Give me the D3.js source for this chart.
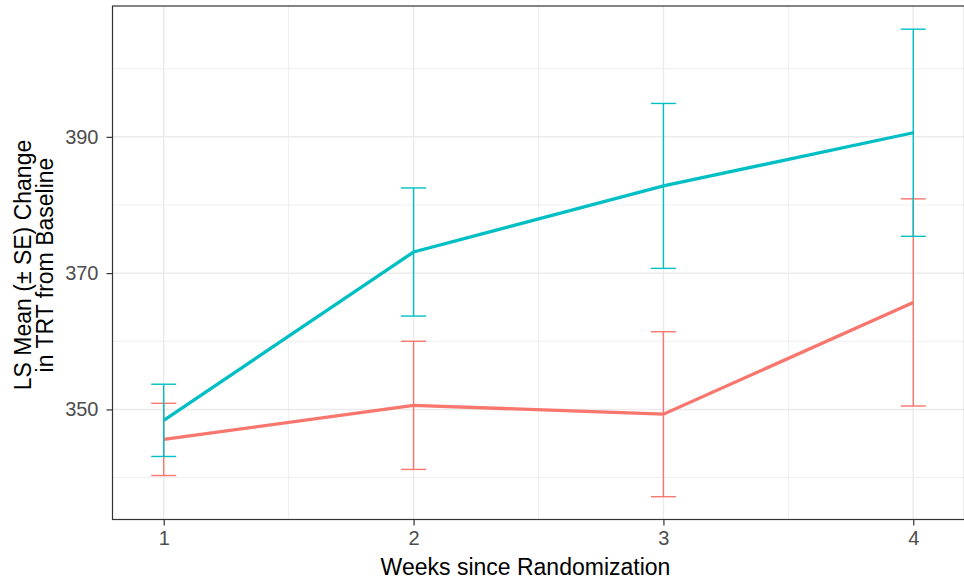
<!DOCTYPE html>
<html lang="en">
<head>
<meta charset="utf-8">
<title>LS Mean Change in TRT</title>
<style>
  body { margin: 0; background: #ffffff; }
  svg { display: block; }
</style>
</head>
<body>
<div id="chart"></div>
<script src="https://cdnjs.cloudflare.com/ajax/libs/d3/7.8.5/d3.min.js"></script>
<script type="text/javascript">

    // values
    var weeks = [1, 2, 3, 4];
    var groupNames = ["Group A", "Group B"];
    var meanA = [345.6, 350.6, 349.3, 365.7];
    var seA = [5.3, 9.4, 12.1, 15.2];
    var meanB = [348.4, 373.1, 382.8, 390.6];
    var seB = [5.3, 9.4, 12.1, 15.2];
    var yTicks = [350, 370, 390];
    var yMinor = [340, 360, 380, 400];
    var xMinor = [1.5, 2.5, 3.5];
    var colors = ["#F8766D", "#00BFC4"];

    var groups = [
        {name: groupNames[0], color: colors[0], pts: weeks.map(function(w, i){ return {x: w, m: meanA[i], se: seA[i]}; })},
        {name: groupNames[1], color: colors[1], pts: weeks.map(function(w, i){ return {x: w, m: meanB[i], se: seB[i]}; })}
    ];

    var width = 964, height = 581;
    var panelL = 112.5, panelR = 964.5, panelT = 6, panelB = 519.5;

    var svg = d3.select("#chart").append("svg")
                .attr("width", width)
                .attr("height", height)
                .style("font-family", "'Liberation Sans', Arial, sans-serif");

    var x = d3.scaleLinear().domain([0.795, 4.205]).range([panelL, panelR]);
    var y = d3.scaleLinear().domain([333.85, 409.2]).range([panelB, panelT]);

    // grid
    var grid = svg.append("g");
    grid.selectAll("line.ymin").data(yMinor).enter().append("line")
        .attr("x1", panelL).attr("x2", panelR)
        .attr("y1", function(d){ return y(d); }).attr("y2", function(d){ return y(d); })
        .attr("stroke", "#EBEBEB").attr("stroke-width", 0.8);
    grid.selectAll("line.xmin").data(xMinor).enter().append("line")
        .attr("y1", panelT).attr("y2", panelB)
        .attr("x1", function(d){ return x(d); }).attr("x2", function(d){ return x(d); })
        .attr("stroke", "#EBEBEB").attr("stroke-width", 0.8);
    grid.selectAll("line.ymaj").data(yTicks).enter().append("line")
        .attr("x1", panelL).attr("x2", panelR)
        .attr("y1", function(d){ return y(d); }).attr("y2", function(d){ return y(d); })
        .attr("stroke", "#EBEBEB").attr("stroke-width", 1.5);
    grid.selectAll("line.xmaj").data(weeks).enter().append("line")
        .attr("y1", panelT).attr("y2", panelB)
        .attr("x1", function(d){ return x(d); }).attr("x2", function(d){ return x(d); })
        .attr("stroke", "#EBEBEB").attr("stroke-width", 1.5);

    // lines
    var line = d3.line().x(function(d){ return x(d.x); }).y(function(d){ return y(d.m); });
    svg.selectAll("path.series").data(groups).enter().append("path")
        .attr("d", function(d){ return line(d.pts); })
        .attr("fill", "none")
        .attr("stroke", function(d){ return d.color; })
        .attr("stroke-width", 3.3);

    // error bars
    var capHalf = 0.05;
    var eb = svg.selectAll("g.eb").data(groups).enter().append("g")
                .attr("stroke", function(d){ return d.color; })
                .attr("stroke-width", 1.4)
                .attr("fill", "none");
    eb.each(function(g){
        var sel = d3.select(this).selectAll("g").data(g.pts).enter().append("g");
        sel.append("line")
           .attr("x1", function(d){ return x(d.x); }).attr("x2", function(d){ return x(d.x); })
           .attr("y1", function(d){ return y(d.m + d.se); }).attr("y2", function(d){ return y(d.m - d.se); });
        sel.append("line")
           .attr("x1", function(d){ return x(d.x - capHalf); }).attr("x2", function(d){ return x(d.x + capHalf); })
           .attr("y1", function(d){ return y(d.m + d.se); }).attr("y2", function(d){ return y(d.m + d.se); });
        sel.append("line")
           .attr("x1", function(d){ return x(d.x - capHalf); }).attr("x2", function(d){ return x(d.x + capHalf); })
           .attr("y1", function(d){ return y(d.m - d.se); }).attr("y2", function(d){ return y(d.m - d.se); });
    });

    // panel border
    svg.append("rect")
       .attr("x", panelL).attr("y", panelT)
       .attr("width", panelR - panelL).attr("height", panelB - panelT)
       .attr("fill", "none").attr("stroke", "#333333").attr("stroke-width", 1.2);

    // axes
    var xAxis = d3.axisBottom(x).tickValues(weeks).tickFormat(d3.format("d")).tickSize(6).tickPadding(5);
    var yAxis = d3.axisLeft(y).tickValues(yTicks).tickFormat(d3.format("d")).tickSize(6).tickPadding(8);

    var gx = svg.append("g").attr("transform", "translate(0," + panelB + ")").call(xAxis);
    var gy = svg.append("g").attr("transform", "translate(" + panelL + ",0)").call(yAxis);
    [gx, gy].forEach(function(g){
        g.attr("font-size", null).attr("font-family", null);
        g.select(".domain").remove();
        g.selectAll(".tick line").attr("stroke", "#333333").attr("stroke-width", 1.2);
        g.selectAll(".tick text").attr("fill", "#4D4D4D").style("font-size", "20px");
    });

    // axis titles
    svg.append("text")
       .text("Weeks since Randomization")
       .attr("x", 525.5).attr("y", 575)
       .attr("text-anchor", "middle")
       .attr("fill", "#000000")
       .style("font-size", "23px");

    var yTitle = svg.append("text")
       .attr("transform", "translate(0,265) rotate(-90)")
       .attr("text-anchor", "middle")
       .attr("fill", "#000000")
       .style("font-size", "23px");
    yTitle.append("tspan").attr("x", 0).attr("y", 31).text("LS Mean (\u00B1 SE) Change");
    yTitle.append("tspan").attr("x", 0).attr("y", 52.5).text("in TRT from Baseline");

</script>
</body>
</html>
